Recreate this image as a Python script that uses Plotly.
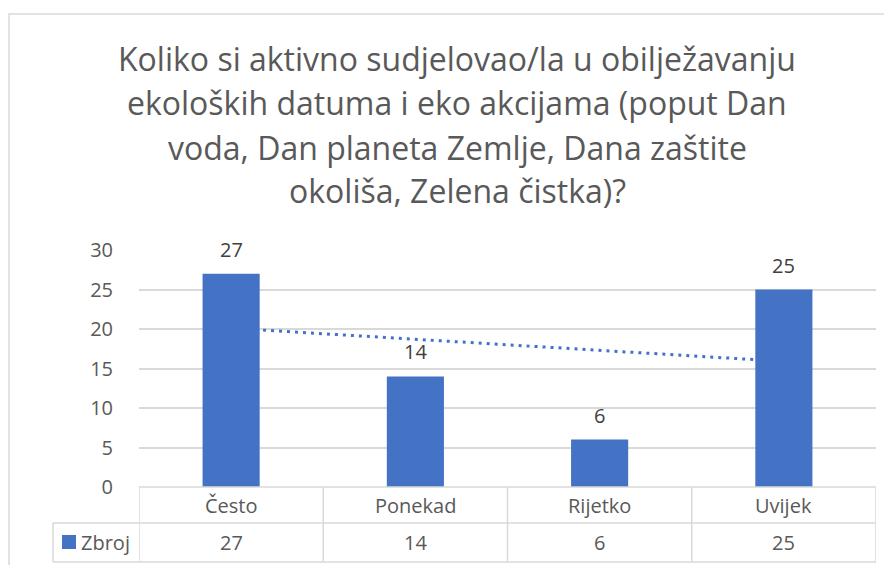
import numpy as np
import plotly.graph_objects as go

categories = ["Često", "Ponekad", "Rijetko", "Uvijek"]
values = [27, 14, 6, 25]
series_name = "Zbroj"
title_lines = [
    "Koliko si aktivno sudjelovao/la u obilježavanju",
    "ekoloških datuma i eko akcijama (poput Dan",
    "voda, Dan planeta Zemlje, Dana zaštite",
    "okoliša, Zelena čistka)?",
]
y_ticks = [0, 5, 10, 15, 20, 25, 30]

OFF = 8  # page body margin
W, H = 892 - OFF, 565 - OFF
FONT = "Open Sans"
BLUE = "#4472C4"
GRID = "#d9d9d9"
TXT = "#595959"


def px(x):
    return (x - OFF) / W


def py(y):
    return 1 - (y - OFF) / H


xpos = np.arange(len(categories))
slope, intercept = np.polyfit(xpos, values, 1)
trend = slope * xpos + intercept

fig = go.Figure()
fig.add_trace(go.Scatter(
    x=xpos, y=trend, mode="lines",
    line=dict(color=BLUE, width=3, dash="3px,5px"),
    xaxis="x", yaxis="y", hoverinfo="skip", showlegend=False,
))
fig.add_trace(go.Bar(
    x=xpos, y=values, marker=dict(color=BLUE, line=dict(width=0)), width=0.31,
    xaxis="x2", yaxis="y2", showlegend=False, name=series_name,
))

x_dom = [px(139), px(876)]
y_dom = [py(487), py(250)]
xr = [-0.5, len(categories) - 0.5]
yr = [0, 30]

fig.update_layout(
    width=W, height=H,
    margin=dict(l=0, r=0, t=0, b=0, pad=0, autoexpand=False),
    paper_bgcolor="white", plot_bgcolor="rgba(0,0,0,0)",
    xaxis=dict(range=xr, domain=x_dom, showgrid=False, zeroline=False, automargin=False,
               showticklabels=False, showline=False, fixedrange=True),
    xaxis2=dict(range=xr, overlaying="x", anchor="y2", showgrid=False, zeroline=False,
                automargin=False, showticklabels=False, showline=False, fixedrange=True),
    yaxis=dict(range=yr, domain=y_dom, tickvals=y_ticks, showgrid=True, automargin=False,
               gridcolor=GRID, gridwidth=1.5, zeroline=False, showline=False,
               ticks="", tickfont=dict(family=FONT, size=20, color=TXT),
               ticklabelstandoff=25, fixedrange=True),
    yaxis2=dict(range=yr, overlaying="y", anchor="x2", showgrid=False, zeroline=False,
                automargin=False, showticklabels=False, showline=False, fixedrange=True),
    showlegend=False,
)

# title lines
title_centers = [59, 103, 147, 190]
for line, yc in zip(title_lines, title_centers):
    fig.add_annotation(text=line, x=px(457), y=py(yc), xref="paper", yref="paper",
                       xanchor="center", yanchor="middle", showarrow=False,
                       font=dict(family=FONT, size=32, color=TXT))

# data labels
for i, v in enumerate(values):
    fig.add_annotation(text=str(v), x=i, y=v, xref="x2", yref="y2",
                       xanchor="center", yanchor="bottom", yshift=9, showarrow=False,
                       font=dict(family=FONT, size=20, color="#404040"))

shapes = []
line_style = dict(color=GRID, width=1.5)
# chart border
shapes.append(dict(type="rect", xref="paper", yref="paper", x0=px(9), x1=1.05,
                   y0=-0.05, y1=py(14), line=dict(color=GRID, width=1.5), layer="below"))
# table horizontal lines
shapes.append(dict(type="line", xref="paper", yref="paper", x0=px(139), x1=px(876),
                   y0=py(487), y1=py(487), line=line_style))
for yy in (523, 562):
    shapes.append(dict(type="line", xref="paper", yref="paper", x0=px(53), x1=px(876),
                       y0=py(yy), y1=py(yy), line=line_style))
# table vertical lines
shapes.append(dict(type="line", xref="paper", yref="paper", x0=px(53), x1=px(53),
                   y0=py(523), y1=py(562), line=line_style))
for k in range(len(categories) + 1):
    shapes.append(dict(type="line", xref="x", yref="paper", x0=k - 0.5, x1=k - 0.5,
                       y0=py(487), y1=py(562), line=line_style))
# legend key
shapes.append(dict(type="rect", xref="paper", yref="paper", x0=px(62), x1=px(76),
                   y0=py(549), y1=py(535), fillcolor=BLUE, line=dict(width=0)))
fig.update_layout(shapes=shapes)

fig.add_annotation(text=series_name, x=px(79), y=py(542), xref="paper", yref="paper",
                   xanchor="left", yanchor="middle", showarrow=False,
                   font=dict(family=FONT, size=20, color=TXT))

for i, (c, v) in enumerate(zip(categories, values)):
    fig.add_annotation(text=c, x=i, y=py(505), xref="x", yref="paper",
                       xanchor="center", yanchor="middle", showarrow=False,
                       font=dict(family=FONT, size=20, color=TXT))
    fig.add_annotation(text=str(v), x=i, y=py(542), xref="x", yref="paper",
                       xanchor="center", yanchor="middle", showarrow=False,
                       font=dict(family=FONT, size=20, color=TXT))

fig.write_html("out.html")
